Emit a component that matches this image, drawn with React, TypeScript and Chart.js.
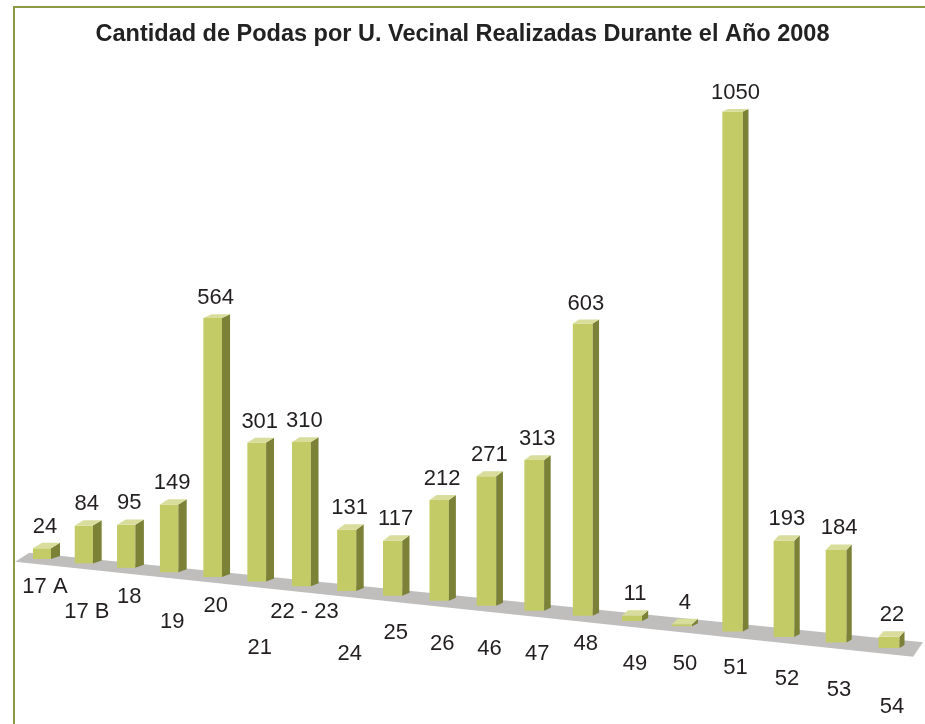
import React, { useEffect, useRef } from 'react';
import { Chart, registerables } from 'chart.js';

Chart.register(...registerables);

// ---------------- data ----------------
const TITLE = 'Cantidad de Podas por U. Vecinal Realizadas Durante el Año 2008';
const CATEGORIES = ['17 A', '17 B', '18', '19', '20', '21', '22 - 23', '24', '25', '26', '46', '47', '48', '49', '50', '51', '52', '53', '54'];
const PODAS = [24, 84, 95, 149, 564, 301, 310, 131, 117, 212, 271, 313, 603, 11, 4, 1050, 193, 184, 22];

// ---------------- presentation (Excel-like 3-D perspective) ----------------
const FONT = '"Liberation Sans", Arial, sans-serif';
const FRONT = '#c3cb66';
const SIDE = '#7b8137';
const TOP = '#d8dd9c';
const FLOOR = '#bfbebd';
const INK = '#231f20';
const FRAME = '#8c9a45';

const ORIGIN_X = 42;
const ORIGIN_Y = 559;
const STEP = 41.55;
const RISE = 4.366;
const PERSP = 0.0065;
const PX_PER_UNIT = 0.447;
const BAR_W = 18;
// staggered drop of each category label below its bar (Excel 3-D label placement)
const LABEL_DROP = [26, 47, 27, 48, 27, 64, 24, 61, 35, 41, 41, 41, 26, 41, 36, 34, 40, 46, 57];

const persp = (u: number) => 1 / (1 - PERSP * u);
const projX = (u: number) => ORIGIN_X + STEP * u * persp(u);
const projY = (u: number) => ORIGIN_Y + RISE * u * persp(u);

const perspectivePlugin = {
  id: 'perspective3d',
  beforeDraw(chart: any) {
    const ctx = chart.ctx;
    ctx.save();
    ctx.strokeStyle = FRAME;
    ctx.lineWidth = 2;
    ctx.strokeRect(14, 7, chart.width + 40, chart.height + 40);
    ctx.restore();
  },
  afterDatasetsUpdate(chart: any) {
    const meta = chart.getDatasetMeta(0);
    const xs = chart.scales.x;
    const ys = chart.scales.y;
    const origin = xs.getPixelForValue(0);
    const step = xs.getPixelForValue(1) - origin;
    const valuePerPx = (ys.max - ys.min) / (ys.bottom - ys.top);
    meta.data.forEach((el: any) => {
      const u = (el.x - origin) / step;
      const s = persp(u);
      const base = projY(u);
      const h = (el.base - el.y) * valuePerPx * PX_PER_UNIT * s;
      el.x = projX(u);
      el.base = base;
      el.y = base - h;
      el.width = BAR_W * Math.pow(s, 1.25);
      el.$u = u;
    });
  },
  beforeDatasetsDraw(chart: any) {
    const ctx = chart.ctx;
    const n = chart.data.labels.length;
    const uL = -0.65;
    const uR = n - 1 + 0.45;
    const front = (u: number) => [projX(u), projY(u) + 5.5 * persp(u)];
    const depth = (u: number) => {
      const f = u / (n - 1);
      return [14 + (10 - 14) * f, -9 + (-14.5 + 9) * f];
    };
    const fl = front(uL), fr = front(uR), dl = depth(uL), dr = depth(uR);
    ctx.save();
    ctx.fillStyle = FLOOR;
    ctx.beginPath();
    ctx.moveTo(fl[0], fl[1]);
    ctx.lineTo(fr[0], fr[1]);
    ctx.lineTo(fr[0] + dr[0], fr[1] + dr[1]);
    ctx.lineTo(fl[0] + dl[0], fl[1] + dl[1]);
    ctx.closePath();
    ctx.fill();
    ctx.restore();
  },
  afterDatasetsDraw(chart: any) {
    const ctx = chart.ctx;
    const meta = chart.getDatasetMeta(0);
    const n = chart.data.labels.length;
    const values = chart.data.datasets[0].data;
    ctx.save();
    meta.data.forEach((el: any, i: number) => {
      const f = el.$u / (n - 1);
      const dx = 9 - 4 * f;
      const xl = el.x - el.width / 2;
      const xr = el.x + el.width / 2;
      const yt = el.y;
      const yb = el.base;
      const dyTop = -(2.5 + 3 * Math.max(0, Math.min(1, (yt - 110) / 440)));
      const dyBot = -3;
      // side face
      ctx.fillStyle = SIDE;
      ctx.beginPath();
      ctx.moveTo(xr, yt);
      ctx.lineTo(xr + dx, yt + dyTop);
      ctx.lineTo(xr + dx, yb + dyBot);
      ctx.lineTo(xr, yb);
      ctx.closePath();
      ctx.fill();
      // top face
      ctx.fillStyle = TOP;
      ctx.beginPath();
      ctx.moveTo(xl, yt);
      ctx.lineTo(xr, yt);
      ctx.lineTo(xr + dx, yt + dyTop);
      ctx.lineTo(xl + dx, yt + dyTop);
      ctx.closePath();
      ctx.fill();
      // value label
      ctx.fillStyle = INK;
      ctx.font = `22px ${FONT}`;
      ctx.textAlign = 'center';
      ctx.textBaseline = 'alphabetic';
      ctx.fillText(String(values[i]), el.x + 3, yt + dyTop - 10);
      // category label
      ctx.fillText(String(chart.data.labels[i]), el.x + 3, yb + LABEL_DROP[i] + 8);
    });
    ctx.restore();
  },
};

export default function App() {
  const ref = useRef<HTMLCanvasElement | null>(null);
  useEffect(() => {
    if (!ref.current) return;
    const chart = new Chart(ref.current, {
      type: 'bar',
      data: {
        labels: CATEGORIES,
        datasets: [{ data: PODAS, backgroundColor: FRONT, borderWidth: 0, clip: false }],
      },
      options: {
        responsive: false,
        animation: false,
        events: [],
        layout: { padding: { left: 20, right: 20, top: 0, bottom: 100 } },
        scales: {
          x: { display: false },
          y: { display: false, min: 0, max: 1100 },
        },
        plugins: {
          legend: { display: false },
          tooltip: { enabled: false },
          title: {
            display: true,
            text: TITLE,
            color: '#222222',
            font: { family: FONT, size: 23.5, weight: 'bold' },
            padding: { top: 20, bottom: 10 },
          },
        },
      },
      plugins: [perspectivePlugin],
    } as any);
    return () => chart.destroy();
  }, []);
  return (
    <div style={{ position: 'fixed', left: 0, top: 0, width: 925, height: 724, background: '#ffffff' }}>
      <canvas ref={ref} width={925} height={724} style={{ display: 'block' }} />
    </div>
  );
}
